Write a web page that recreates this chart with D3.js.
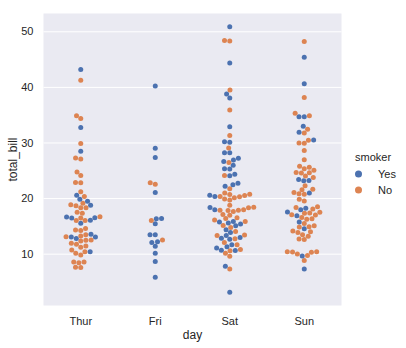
<!DOCTYPE html>
<html>
<head>
<meta charset="utf-8">
<script src="https://cdn.jsdelivr.net/npm/d3@7"></script>
<style>
  body { margin: 0; background: #fff; }
  text { font-family: Arial, "Liberation Sans", sans-serif; fill: #262626; }
</style>
</head>
<body>
<div id="chart"></div>
<script>
// data: total_bill per day, split by smoker
var days = ["Thur", "Fri", "Sat", "Sun"];
var smokerLevels = ["Yes", "No"];
var yTicks = [10, 20, 30, 40, 50];

var thurYes = [19.44, 32.68, 16.0, 19.81, 28.44, 15.48, 16.58, 10.34, 43.11, 13.0, 13.51, 18.71, 12.74, 13.0, 16.4, 20.53, 16.47];
var thurNo = [27.2, 22.76, 17.29, 16.66, 10.07, 15.98, 34.83, 13.03, 18.28, 24.71, 21.16, 10.65, 12.43, 24.08, 11.69,
  13.42, 14.26, 15.95, 12.48, 29.8, 8.52, 14.52, 11.38, 22.82, 19.08, 20.27, 11.17, 12.26, 18.26, 8.51, 10.33, 14.15,
  13.16, 17.47, 34.3, 41.19, 27.05, 16.43, 8.35, 18.64, 11.87, 9.78, 7.51, 7.56, 18.78];
var friYes = [28.97, 5.75, 16.32, 40.17, 27.28, 12.03, 21.01, 11.35, 15.38, 12.16, 13.42, 8.58, 13.42, 16.27, 10.09];
var friNo = [22.49, 22.75, 12.46, 15.98];
var satYes = [38.01, 11.24, 20.29, 13.81, 11.02, 18.29, 3.07, 15.01, 26.86, 25.28, 17.92, 44.3, 22.42, 15.36, 20.49,
  25.21, 14.31, 10.59, 10.63, 50.81, 15.81, 26.59, 38.73, 24.27, 12.76, 30.06, 25.89, 13.27, 28.17, 12.9, 28.15, 11.59,
  7.74, 30.14, 22.12, 24.01, 15.69, 15.53, 12.6, 32.83, 27.18, 22.67];
var satNo = [20.65, 17.92, 20.29, 15.77, 39.42, 19.82, 17.81, 13.37, 12.69, 21.7, 19.65, 9.55, 18.35, 15.06, 20.69,
  17.78, 24.06, 16.31, 16.93, 18.69, 31.27, 16.04, 26.41, 48.27, 17.59, 20.08, 16.45, 20.23, 12.02, 17.07, 14.73, 10.51,
  20.92, 18.24, 14.0, 7.25, 48.33, 20.45, 13.28, 11.61, 10.77, 10.07, 35.83, 29.03, 17.82];
var sunYes = [17.51, 7.25, 31.85, 16.82, 32.9, 17.89, 14.48, 9.6, 34.63, 34.65, 23.33, 45.35, 23.17, 40.55, 20.9,
  30.46, 18.15, 23.1, 15.69];
var sunNo = [16.99, 10.34, 21.01, 23.68, 24.59, 25.29, 8.77, 26.88, 15.04, 14.78, 10.27, 35.26, 15.42, 18.43, 14.83,
  21.58, 10.33, 16.29, 16.97, 17.46, 13.94, 9.68, 30.4, 18.29, 22.23, 32.4, 28.55, 18.04, 12.54, 10.29, 34.81, 9.94,
  25.56, 19.49, 38.07, 23.95, 25.71, 17.31, 29.93, 14.07, 13.13, 17.26, 24.55, 19.77, 29.85, 48.17, 25.0, 13.39, 16.49,
  21.5, 12.66, 16.21, 13.81, 24.52, 20.76, 31.71, 20.69];

var groups = [
  {day: "Thur", Yes: thurYes, No: thurNo},
  {day: "Fri", Yes: friYes, No: friNo},
  {day: "Sat", Yes: satYes, No: satNo},
  {day: "Sun", Yes: sunYes, No: sunNo}
];

var W = 406, H = 348;
var plot = {left: 43.5, right: 341.5, top: 13.5, bottom: 305.5};

var svg = d3.select("#chart").append("svg")
    .attr("width", W)
    .attr("height", H);

var x = d3.scaleBand()
    .domain(days)
    .range([plot.left, plot.right]);
var y = d3.scaleLinear()
    .domain([0.68, 53.2])
    .range([plot.bottom, plot.top]);
var color = d3.scaleOrdinal()
    .domain(smokerLevels)
    .range(["#4c72b0", "#dd8452"]);

// background + grid
svg.append("rect")
    .attr("x", plot.left).attr("y", plot.top)
    .attr("width", plot.right - plot.left)
    .attr("height", plot.bottom - plot.top)
    .attr("fill", "#eaeaf2");

var yAxis = d3.axisLeft(y).tickValues(yTicks).tickSize(-(plot.right - plot.left)).tickPadding(10);
var yG = svg.append("g")
    .attr("transform", "translate(" + plot.left + ",0)")
    .call(yAxis);
yG.select(".domain").remove();
yG.selectAll(".tick line").attr("stroke", "#fff").attr("stroke-width", 1);
yG.selectAll(".tick text").attr("font-size", 11).attr("fill", "#262626");

var xAxis = d3.axisBottom(x).tickSize(0).tickPadding(12);
var xG = svg.append("g")
    .attr("transform", "translate(0," + plot.bottom + ")")
    .call(xAxis);
xG.select(".domain").remove();
xG.selectAll(".tick text").attr("font-size", 11).attr("fill", "#262626");

// axis labels
svg.append("text")
    .attr("x", (plot.left + plot.right) / 2)
    .attr("y", 339)
    .attr("text-anchor", "middle")
    .attr("font-size", 12)
    .text("day");
svg.append("text")
    .attr("transform", "translate(16.5," + ((plot.top + plot.bottom) / 2) + ")rotate(-90)")
    .attr("text-anchor", "middle")
    .attr("font-size", 12)
    .text("total_bill");

// swarm layout, same steps as seaborn's beeswarm
var d = 5;
function beeswarm(pts, mid) {
  var swarm = [];
  pts.forEach(function(p, i) {
    if (i === 0) { swarm.push({x: mid, u: p.u, p: p}); return; }
    var neighbors = [];
    for (var j = swarm.length - 1; j >= 0; j--) {
      if (p.u - swarm[j].u < d) neighbors.unshift(swarm[j]);
      else break;
    }
    var cands = [mid];
    var leftFirst = true;
    neighbors.forEach(function(n) {
      var dy = p.u - n.u;
      var dx = Math.sqrt(Math.max(d * d - dy * dy, 0)) * 1.05;
      if (leftFirst) cands.push(n.x - dx, n.x + dx);
      else cands.push(n.x + dx, n.x - dx);
      leftFirst = !leftFirst;
    });
    cands = cands.map(function(c, k) { return {c: c, k: k}; })
      .sort(function(a, b) { return (Math.abs(a.c - mid) - Math.abs(b.c - mid)) || (a.k - b.k); })
      .map(function(o) { return o.c; });
    var chosen = mid;
    for (var c = 0; c < cands.length; c++) {
      var ok = neighbors.every(function(n) {
        return Math.pow(n.x - cands[c], 2) + Math.pow(n.u - p.u, 2) >= d * d;
      });
      if (ok) { chosen = cands[c]; break; }
    }
    swarm.push({x: chosen, u: p.u, p: p});
  });
  var half = x.bandwidth() * 0.4;
  swarm.forEach(function(s) { s.x = Math.max(mid - half, Math.min(mid + half, s.x)); });
  return swarm;
}

groups.forEach(function(g) {
  var mid = x(g.day) + x.bandwidth() / 2;
  var pts = [];
  g.No.forEach(function(v) { pts.push({v: v, s: "No", u: -y(v)}); });
  g.Yes.forEach(function(v) { pts.push({v: v, s: "Yes", u: -y(v)}); });
  pts.sort(function(a, b) { return a.u - b.u; });
  var placed = beeswarm(pts, mid);
  svg.append("g").selectAll("circle")
    .data(placed)
    .enter().append("circle")
      .attr("cx", function(s) { return s.x; })
      .attr("cy", function(s) { return y(s.p.v); })
      .attr("r", 2.5)
      .attr("fill", function(s) { return color(s.p.s); });
});

// legend
var legend = svg.append("g");
legend.append("text")
    .attr("x", 355).attr("y", 161)
    .attr("font-size", 11)
    .text("smoker");
var items = legend.selectAll("g.item")
    .data(smokerLevels)
    .enter().append("g")
      .attr("class", "item")
      .attr("transform", function(s, i) { return "translate(0," + (174 + i * 16) + ")"; });
items.append("circle")
    .attr("cx", 358.5).attr("cy", 0)
    .attr("r", 3.5)
    .attr("fill", function(s) { return color(s); });
items.append("text")
    .attr("x", 378).attr("y", 4)
    .attr("font-size", 11)
    .text(function(s) { return s; });
</script>
</body>
</html>
